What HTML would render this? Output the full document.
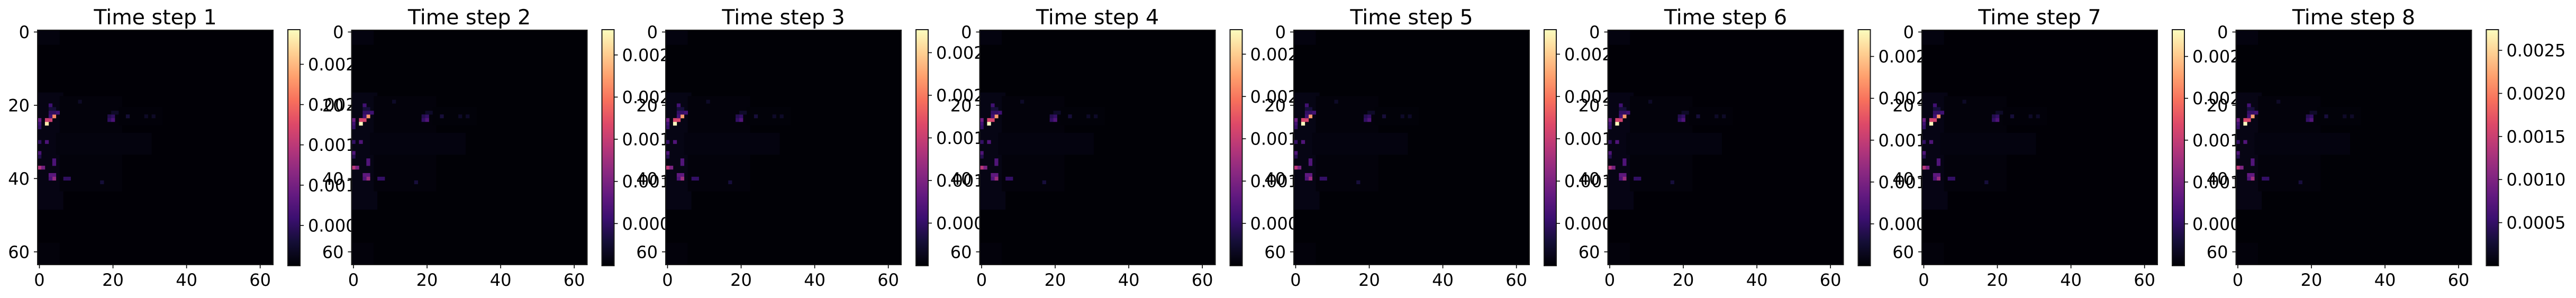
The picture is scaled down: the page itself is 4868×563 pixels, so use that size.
<!DOCTYPE html>
<html><head><meta charset="utf-8">
<style>
html,body{margin:0;padding:0;background:#fff;}
svg{display:block;font-family:"DejaVu Sans","Liberation Sans",sans-serif;}
</style></head>
<body>
<svg id="fig" width="4868" height="563" viewBox="0 0 4868 563" xmlns="http://www.w3.org/2000/svg">
<defs>
<linearGradient id="magma" x1="0" y1="1" x2="0" y2="0">
<stop offset="0" stop-color="#000004"/><stop offset="0.1" stop-color="#140e36"/>
<stop offset="0.2" stop-color="#3b0f70"/><stop offset="0.3" stop-color="#641a80"/>
<stop offset="0.4" stop-color="#8c2981"/><stop offset="0.5" stop-color="#b73779"/>
<stop offset="0.6" stop-color="#de4968"/><stop offset="0.7" stop-color="#f7705c"/>
<stop offset="0.8" stop-color="#fe9f6d"/><stop offset="0.9" stop-color="#fecf92"/>
<stop offset="1" stop-color="#fcfdbf"/>
</linearGradient>
</defs>
</svg>
<script>
// ---- data ----
const panelTitles = ["Time step 1","Time step 2","Time step 3","Time step 4","Time step 5","Time step 6","Time step 7","Time step 8"];
const vmaxValues = [0.00293,0.00280,0.00277,0.00279,0.00279,0.00282,0.00282,0.00274];
const vminValues = [0,0,0,0,0,0,0,0];
const axisTicks = [0,20,40,60];
const cbarTicks = [0.0005,0.0010,0.0015,0.0020,0.0025];
const cbarTickLabels = ["0.0005","0.0010","0.0015","0.0020","0.0025"];
const backgroundValue = 0.00001;
// faint patches: [rowStart,rowEnd,colStart,colEnd,value]
const patches = [
 [0,3,0,5,0.00006],
 [17,48,0,6,0.00009],
 [18,43,6,22,0.00004],
 [28,33,5,30,0.00006],
 [21,25,22,33,0.00003],
 [58,63,0,5,0.00004]
];
// hot cells: [row,col,value]
const hotCells = [
 [25,2,0.0028],[23,4,0.0022],[24,2,0.0016],[24,3,0.0016],[24,0,0.0009],
 [25,0,0.0006],[26,0,0.0005],[20,3,0.0006],[21,3,0.0003],[21,4,0.0003],
 [22,3,0.0005],[22,4,0.0005],[22,5,0.0006],[23,3,0.0006],
 [23,19,0.0004],[23,20,0.0005],[24,19,0.0005],[24,20,0.0007],[22,20,0.0002],[22,21,0.0002],[23,24,0.0003],
 [30,2,0.0007],[30,0,0.0005],[33,0,0.0007],[34,0,0.0004],[35,4,0.0007],[36,4,0.0007],
 [37,0,0.0014],[37,1,0.0010],[39,3,0.0008],[39,4,0.0008],[40,4,0.0012],[40,3,0.0007],
 [40,7,0.0005],[40,8,0.0005],[41,17,0.0003],[19,11,0.0002],[23,29,0.0002],[23,31,0.0002]
];
// ---- layout ----
const axL0=71, pitch=593.5, axW=445, axT=57, axH=443, cbOff=473, cbW=23, cbT=56, cbB=502;
const stops=[[0,[0,0,4]],[0.1,[20,14,54]],[0.2,[59,15,112]],[0.3,[100,26,128]],[0.4,[140,41,129]],[0.5,[183,55,121]],[0.6,[222,73,104]],[0.7,[247,112,92]],[0.8,[254,159,109]],[0.9,[254,207,146]],[1,[252,253,191]]];
function magma(t){t=Math.max(0,Math.min(1,t));for(let i=1;i<stops.length;i++){if(t<=stops[i][0]){const a=stops[i-1],b=stops[i],f=(t-a[0])/(b[0]-a[0]);return 'rgb('+a[1].map((c,k)=>Math.round(c+(b[1][k]-c)*f)).join(',')+')';}}return 'rgb(252,253,191)';}
const NS="http://www.w3.org/2000/svg";
const svg=document.getElementById('fig');
function mk(tag,attrs,parent){const e=document.createElementNS(NS,tag);for(const k in attrs)e.setAttribute(k,attrs[k]);(parent||svg).appendChild(e);return e;}
const cw=axW/64, ch=axH/64;
panelTitles.forEach((title,p)=>{
  const axL=axL0+p*pitch;
  const xPos=c=>axL+c*cw, yPos=r=>axT+r*ch;
  const xTick=v=>axL+(v+0.5)*cw, yTick=v=>axT+(v+0.5)*ch;
  const vmin=vminValues[p], vmax=vmaxValues[p];
  const col=v=>magma((v-vmin)/(vmax-vmin));
  const g=mk('g',{});
  
  
  const t=mk('text',{x:axL+axW/2,y:46,'font-size':39.5,'text-anchor':'middle',fill:'#000'},g);
  t.textContent=title;
  
  
  const bg=mk('rect',{x:axL,y:axT,width:axW,height:axH,fill:col(backgroundValue)},g);
  
  
  patches.forEach(pt=>{
    const r=mk('rect',{x:xPos(pt[2]),y:yPos(pt[0]),width:(pt[3]-pt[2]+1)*cw,height:(pt[1]-pt[0]+1)*ch,fill:col(pt[4])},g);
    
    
  });
  hotCells.forEach(hc=>{
    const r=mk('rect',{x:xPos(hc[1]),y:yPos(hc[0]),width:cw+0.3,height:ch+0.3,fill:col(hc[2])},g);
    
    
  });
  mk('rect',{x:axL,y:axT,width:axW,height:axH,fill:'none',stroke:'#1a1a1a','stroke-width':2},g);
  axisTicks.forEach(v=>{
    const x=xTick(v);
    mk('line',{x1:x,y1:axT+axH,x2:x,y2:axT+axH+7,stroke:'#000','stroke-width':1.6},g);
    const lx=mk('text',{x:x,y:540,'font-size':32,'text-anchor':'middle'},g);
    lx.textContent=v;
    
    
    const y=yTick(v);
    mk('line',{x1:axL,y1:y,x2:axL-7,y2:y,stroke:'#000','stroke-width':1.6},g);
    const ly=mk('text',{x:axL-15,y:y+11.5,'font-size':32,'text-anchor':'end'},g);
    ly.textContent=v;
    
    
  });
  const cbL=axL+cbOff;
  const cbY=v=>cbB-(v-vmin)/(vmax-vmin)*(cbB-cbT);
  const cb=mk('rect',{x:cbL,y:cbT,width:cbW,height:cbB-cbT,fill:'url(#magma)',stroke:'#1a1a1a','stroke-width':2},g);
  
  
  cbarTicks.forEach((v,i)=>{
    const y=cbY(v);
    mk('line',{x1:cbL+cbW,y1:y,x2:cbL+cbW+7,y2:y,stroke:'#000','stroke-width':1.6},g);
    const l=mk('text',{x:cbL+cbW+15,y:y+11.5,'font-size':32},g);
    l.textContent=cbarTickLabels[i];
    
    
  });
});
</script>
</body></html>
